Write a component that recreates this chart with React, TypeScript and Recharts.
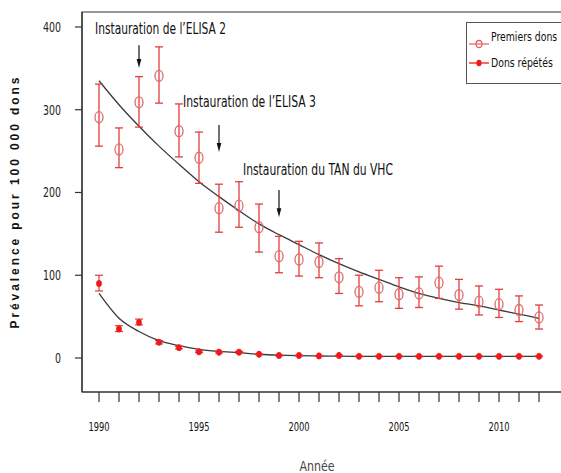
import React from 'react';
import {
  ComposedChart,
  Line,
  XAxis,
  YAxis,
  ErrorBar,
  ReferenceArea,
  ReferenceLine,
  ReferenceDot,
  Legend,
} from 'recharts';

const years = [1990, 1991, 1992, 1993, 1994, 1995, 1996, 1997, 1998, 1999, 2000, 2001, 2002, 2003, 2004, 2005, 2006, 2007, 2008, 2009, 2010, 2011, 2012];

const premiersDons = [291, 252, 309, 341, 274, 242, 181, 184, 158, 123, 119, 116, 97.5, 80, 85, 77, 78, 91, 76, 68, 65, 58, 49];
const premiersLow = [256, 230, 279, 308, 243, 211, 152, 158, 128, 103, 99, 97, 78, 63, 68, 60, 61, 72, 59, 52, 49, 44, 35];
const premiersHigh = [331, 278, 340, 376, 307, 273, 210, 213, 186, 147, 141, 139, 120, 100, 106, 97, 98, 111, 95, 87, 83, 75, 64];
const premiersFit = [335, 306, 280, 256, 234, 213, 195, 178, 162, 149, 137, 125, 114, 104, 95, 86, 78, 72, 67, 63, 58, 53, 48];

const donsRepetes = [90, 35, 43, 19, 12.5, 7.5, 7, 7, 4.5, 3, 3, 2.5, 3, 2, 2, 2, 2, 2, 2, 2, 2, 2, 2];
const repetesLow = [81, 32, 40, 17, 11, 6.5, 6, 6, 4, 2.5, 2.5, 2, 2.5, 1.5, 1.5, 1.5, 1.5, 1.5, 1.5, 1.5, 1.5, 1.5, 1.5];
const repetesHigh = [100, 39, 47, 21, 14, 8.5, 8, 8, 5, 3.5, 3.5, 3, 3.5, 2.5, 2.5, 2.5, 2.5, 2.5, 2.5, 2.5, 2.5, 2.5, 2.5];
const repetesFit = [78, 48, 32, 21, 15, 10.5, 8, 6.4, 4.5, 3.4, 2.8, 2.4, 2.2, 2, 2, 2, 2, 2, 2, 2, 2, 2, 2];

const yTicks = [0, 100, 200, 300, 400];
const xLabelYears = [1990, 1995, 2000, 2005, 2010];
const xDomain: [number, number] = [1989.15, 2013.35];
const yDomain: [number, number] = [-41.1, 418.1];

const annotationTexts = ['Instauration de l’ELISA 2', 'Instauration de l’ELISA 3', 'Instauration du TAN du VHC'];
const annotationTextYears = [1989.8, 1994.2, 1997.2];
const annotationTextValues = [397, 309.4, 227];
const annotationTextLengths = [131, 133, 150];
const arrowYears = [1992, 1996, 1999];
const arrowFrom = [378, 281.6, 203];
const arrowTo = [350.5, 249, 170];

const seriesNames = ['Premiers dons', 'Dons répétés'];

const rows = years.map((year, i) => ({
  year,
  premiers: premiersDons[i],
  premiersErr: [premiersDons[i] - premiersLow[i], premiersHigh[i] - premiersDons[i]],
  premiersFit: premiersFit[i],
  repetes: donsRepetes[i],
  repetesErr: [donsRepetes[i] - repetesLow[i], repetesHigh[i] - donsRepetes[i]],
  repetesFit: repetesFit[i],
}));

const NARROW = '"Liberation Sans Narrow", "DejaVu Sans Condensed", "Liberation Sans", Arial, sans-serif';
const RED_BAR = '#e43c3c';
const RED_CIRCLE = '#e06a6a';
const RED_DOT = '#f01818';
const FIT = '#3a3a3a';

const OpenCircle = (props: any) => {
  const { cx, cy, key } = props;
  if (cx == null || cy == null) return <g key={key} />;
  return <ellipse key={key} cx={cx} cy={cy} rx={4} ry={5.5} fill="none" stroke={RED_CIRCLE} strokeWidth={1.3} />;
};

const FilledDot = (props: any) => {
  const { cx, cy, key } = props;
  if (cx == null || cy == null) return <g key={key} />;
  return <ellipse key={key} cx={cx} cy={cy} rx={2.6} ry={3.2} fill={RED_DOT} stroke={RED_DOT} strokeWidth={0.6} />;
};

const ArrowShape = (p: any) => {
  const { x1, y1, x2, y2 } = p;
  return (
    <g>
      <line x1={x1} y1={y1} x2={x2} y2={y2 - 6} stroke="#111" strokeWidth={1.2} />
      <polygon points={`${x2 - 2.3},${y2 - 9} ${x2 + 2.3},${y2 - 9} ${x2},${y2}`} fill="#111" />
    </g>
  );
};

const XTick = (props: any) => {
  const { x, y, payload } = props;
  const v = payload?.value;
  if (!xLabelYears.includes(v)) return <g />;
  const s = String(v);
  return (
    <text x={x} y={y} dy="0.71em" textAnchor="middle" fontFamily={NARROW} fontSize={12} fill="#111" textLength={s.length * 5.3} lengthAdjust="spacingAndGlyphs">
      {s}
    </text>
  );
};

const YTick = (props: any) => {
  const { x, y, payload } = props;
  const s = String(payload?.value);
  return (
    <text x={x} y={y} dominantBaseline="central" textAnchor="end" fontFamily={NARROW} fontSize={14} fill="#222" textLength={s.length * 6} lengthAdjust="spacingAndGlyphs">
      {s}
    </text>
  );
};

const LegendBox = () => (
  <div style={{ border: '1px solid #555', width: 97, height: 62, background: '#fff', boxSizing: 'border-box', overflow: 'hidden' }}>
    <svg width={93} height={60} style={{ display: 'block' }}>
      <line x1={2} y1={21} x2={22} y2={21} stroke={RED_CIRCLE} strokeWidth={1.3} />
      <ellipse cx={12} cy={21} rx={3} ry={3.5} fill="none" stroke={RED_CIRCLE} strokeWidth={1.3} />
      <g transform="translate(24,14) scale(0.83,1)">
        <text x={0} y={0} dominantBaseline="central" fontFamily={NARROW} fontSize={12.5} fill="#111">
          {seriesNames[0]}
        </text>
      </g>
      <line x1={2} y1={40} x2={22} y2={40} stroke={RED_DOT} strokeWidth={1.3} />
      <ellipse cx={12} cy={40} rx={2.6} ry={3.2} fill={RED_DOT} />
      <g transform="translate(24,40) scale(0.83,1)">
        <text x={0} y={0} dominantBaseline="central" fontFamily={NARROW} fontSize={12.5} fill="#111">
          {seriesNames[1]}
        </text>
      </g>
    </svg>
  </div>
);

export default function App() {
  return (
    <div style={{ position: 'absolute', left: 0, top: 0, width: 561, height: 473, overflow: 'hidden', background: '#fff' }}>
      <ComposedChart width={570} height={473} data={rows} margin={{ top: 12, right: 4, left: 0, bottom: 0 }}>
        <XAxis
          type="number"
          dataKey="year"
          domain={xDomain}
          allowDataOverflow
          ticks={years}
          interval={0}
          tickSize={10}
          tickMargin={20}
          height={81}
          axisLine={{ stroke: '#333', strokeWidth: 1.2 }}
          tickLine={{ stroke: '#333', strokeWidth: 1.2 }}
          tick={XTick}
          label={{
            content: () => (
              <text x={317} y={466} textAnchor="middle" dominantBaseline="central" fontFamily={NARROW} fontSize={14} fill="#444" textLength={35} lengthAdjust="spacingAndGlyphs">
                Année
              </text>
            ),
          }}
        />
        <YAxis
          type="number"
          domain={yDomain}
          allowDataOverflow
          ticks={yTicks}
          interval={0}
          tickSize={7}
          tickMargin={14}
          width={82}
          axisLine={{ stroke: '#333', strokeWidth: 1.2 }}
          tickLine={{ stroke: '#333', strokeWidth: 1.2 }}
          tick={YTick}
          label={{
            content: () => (
              <text
                x={15}
                y={203}
                transform="rotate(-90, 15, 203)"
                textAnchor="middle"
                dominantBaseline="central"
                fontFamily='"Liberation Sans", Arial, sans-serif'
                fontWeight="bold"
                fontSize={12}
                fill="#111"
                textLength={251}
                lengthAdjust="spacing"
              >
                Prévalence pour 100 000 dons
              </text>
            ),
          }}
        />
        <ReferenceArea
          x1={xDomain[0]}
          x2={xDomain[1]}
          y1={yDomain[0]}
          y2={yDomain[1]}
          fill="none"
          stroke="#333"
          strokeWidth={1.2}
          ifOverflow="visible"
        />
        <Line dataKey="premiersFit" type="monotone" stroke={FIT} strokeWidth={1.3} dot={false} activeDot={false} isAnimationActive={false} legendType="none" />
        <Line dataKey="repetesFit" type="monotone" stroke={FIT} strokeWidth={1.3} dot={false} activeDot={false} isAnimationActive={false} legendType="none" />
        <Line dataKey="premiers" name={seriesNames[0]} stroke="none" dot={OpenCircle} activeDot={false} isAnimationActive={false}>
          <ErrorBar dataKey="premiersErr" width={4} stroke={RED_BAR} strokeWidth={1.3} direction="y" isAnimationActive={false} />
        </Line>
        <Line dataKey="repetes" name={seriesNames[1]} stroke="none" dot={FilledDot} activeDot={false} isAnimationActive={false}>
          <ErrorBar dataKey="repetesErr" width={4} stroke={RED_BAR} strokeWidth={1.2} direction="y" isAnimationActive={false} />
        </Line>
        {arrowYears.map((yr, i) => (
          <ReferenceLine
            key={`arrow-${i}`}
            segment={[{ x: yr, y: arrowFrom[i] }, { x: yr, y: arrowTo[i] }]}
            stroke="#111"
            shape={ArrowShape}
            ifOverflow="visible"
          />
        ))}
        {annotationTexts.map((t, i) => (
          <ReferenceDot
            key={`ann-${i}`}
            x={annotationTextYears[i]}
            y={annotationTextValues[i]}
            r={0}
            ifOverflow="visible"
            shape={(p: any) => (
              <text
                x={p.cx}
                y={p.cy}
                dominantBaseline="central"
                fontFamily={NARROW}
                fontSize={15}
                fill="#111"
                textLength={annotationTextLengths[i]}
                lengthAdjust="spacingAndGlyphs"
              >
                {t}
              </text>
            )}
          />
        ))}
        <Legend
          layout="vertical"
          align="center"
          verticalAlign="middle"
          content={() => <LegendBox />}
          wrapperStyle={{ position: 'absolute', left: 466, top: 22, width: 97, height: 62 }}
        />
      </ComposedChart>
    </div>
  );
}
